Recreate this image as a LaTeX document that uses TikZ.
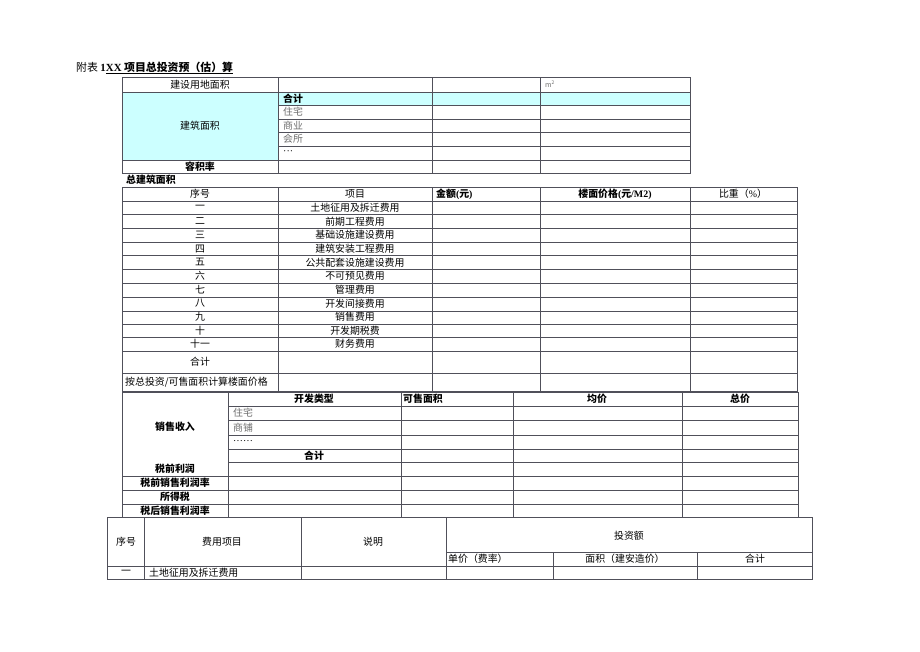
\documentclass[tikz,border=0pt]{standalone}
\usepackage{fontspec}
\setmainfont{Noto Sans CJK SC}
\newfontfamily\tnr{Liberation Serif}
\definecolor{cellcyan}{RGB}{204,255,255}
\definecolor{gridline}{RGB}{80,80,90}
\definecolor{softtext}{RGB}{110,110,110}
\tikzset{
  grid/.style={draw=gridline, line width=0.6pt},
  txt/.style={inner sep=0pt, font=\fontsize{9.9}{11}\selectfont, text=black},
  btxt/.style={txt, font=\fontsize{9.9}{11}\selectfont\bfseries},
  gtxt/.style={txt, text=softtext},
  lt/.style={anchor=west},
}
\begin{document}
\begin{tikzpicture}[x=1pt,y=-1pt]
\useasboundingbox[fill=white] (0,0) rectangle (920,651);

% ---------- title ----------
\node[txt, lt, font=\fontsize{10.9}{12}\selectfont] (title) at (76,68)
  {附表 {\tnr\bfseries 1}\underline{\bfseries{\tnr XX} 项目总投资预（估）算}};

% ---------- table 1 ----------
\fill[cellcyan] (122,92) rectangle (278,160);
\fill[cellcyan] (278,92) rectangle (690,105);
\draw[grid] (122,77) rectangle (690,173);
\foreach \y in {92,160} \draw[grid] (122,\y) -- (690,\y);
\foreach \y in {105,119,132,146} \draw[grid] (278,\y) -- (690,\y);
\foreach \x in {278,432,540} \draw[grid] (\x,77) -- (\x,173);

\node[txt] (t1a) at (200,84.5) {建设用地面积};
\node[txt] (t1b) at (200,126) {建筑面积};
\node[btxt] (t1c) at (200,166.5) {容积率};
\node[btxt, lt] (t1d) at (283,98.5) {合计};
\node[gtxt, lt] (t1e) at (283,112) {住宅};
\node[gtxt, lt] (t1f) at (283,125.5) {商业};
\node[gtxt, lt] (t1g) at (283,139) {会所};
\node[txt, lt] (t1h) at (283,152.5) {\tnr ···};
\node[gtxt, lt, font=\fontsize{7}{8}\selectfont] (t1u) at (545,84) {m\textsuperscript{2}};

\node[btxt, lt] (sub2) at (126,180) {总建筑面积};

% ---------- table 2 ----------
\draw[grid] (122,187) rectangle (797,391);
\foreach \y in {201,214.5,228,242,255.5,269,283,297,311,324,337.5,351,373}
  \draw[grid] (122,\y) -- (797,\y);
\foreach \x in {278,432,540,690} \draw[grid] (\x,187) -- (\x,391);

\node[txt] (h1) at (200,194) {序号};
\node[txt] (h2) at (355,194) {项目};
\node[btxt, lt] (h3) at (436,194) {金额{\tnr\bfseries (}元{\tnr\bfseries )}};
\node[btxt] (h4) at (615,194) {楼面价格{\tnr\bfseries (}元{\tnr\bfseries /M2)}};
\node[txt] (h5) at (743,194) {比重（{\tnr\%}）};

\foreach \n/\num/\item [count=\i] in {
  r1/一/土地征用及拆迁费用,
  r2/二/前期工程费用,
  r3/三/基础设施建设费用,
  r4/四/建筑安装工程费用,
  r5/五/公共配套设施建设费用,
  r6/六/不可预见费用,
  r7/七/管理费用,
  r8/八/开发间接费用,
  r9/九/销售费用,
  r10/十/开发期税费,
  r11/十一/财务费用}
{
  \pgfmathsetmacro{\yc}{201+13.636*(\i-1)+6.8}
  \node[txt] (\n a) at (200,\yc) {\num};
  \node[txt] (\n b) at (355,\yc) {\item};
}
\node[txt] (sum2) at (200,362) {合计};
\node[txt, lt] (calc2) at (125,382) {按总投资/可售面积计算楼面价格};

% ---------- table 3 ----------
\draw[grid] (122,392) rectangle (798,517);
\foreach \y in {406,420,435,449,462} \draw[grid] (228,\y) -- (798,\y);
\foreach \y in {476,490,504} \draw[grid] (122,\y) -- (798,\y);
\foreach \x in {228,401,513,682} \draw[grid] (\x,392) -- (\x,517);

\node[btxt] (s1) at (175,427) {销售收入};
\node[btxt] (s2) at (175,469) {税前利润};
\node[btxt] (s3) at (175,483) {税前销售利润率};
\node[btxt] (s4) at (175,497) {所得税};
\node[btxt] (s5) at (175,510.5) {税后销售利润率};
\node[btxt] (s6) at (314,399) {开发类型};
\node[gtxt, lt] (s7) at (233,413) {住宅};
\node[gtxt, lt] (s8) at (233,427.5) {商铺};
\node[txt, lt] (s9) at (233,441) {\tnr ……};
\node[btxt] (s10) at (314,455.5) {合计};
\node[btxt, lt] (s11) at (403,399) {可售面积};
\node[btxt] (s12) at (597,399) {均价};
\node[btxt] (s13) at (740,399) {总价};

% ---------- table 4 ----------
\draw[grid] (107,517) rectangle (812,579);
\draw[grid] (107,566) -- (812,566);
\draw[grid] (446,552) -- (812,552);
\foreach \x in {144,301,446} \draw[grid] (\x,517) -- (\x,579);
\foreach \x in {553,697} \draw[grid] (\x,552) -- (\x,579);

\node[txt] (f1) at (126,542) {序号};
\node[txt] (f2) at (222,542) {费用项目};
\node[txt] (f3) at (373,542) {说明};
\node[txt] (f4) at (629,536) {投资额};
\node[txt, lt] (f5) at (448,559) {单价（费率）};
\node[txt] (f6) at (625,559) {面积（建安造价）};
\node[txt] (f7) at (755,559) {合计};
\node[txt] (f8) at (126,572.5) {一};
\node[txt, lt] (f9) at (149,572.5) {土地征用及拆迁费用};
\end{tikzpicture}
\end{document}
